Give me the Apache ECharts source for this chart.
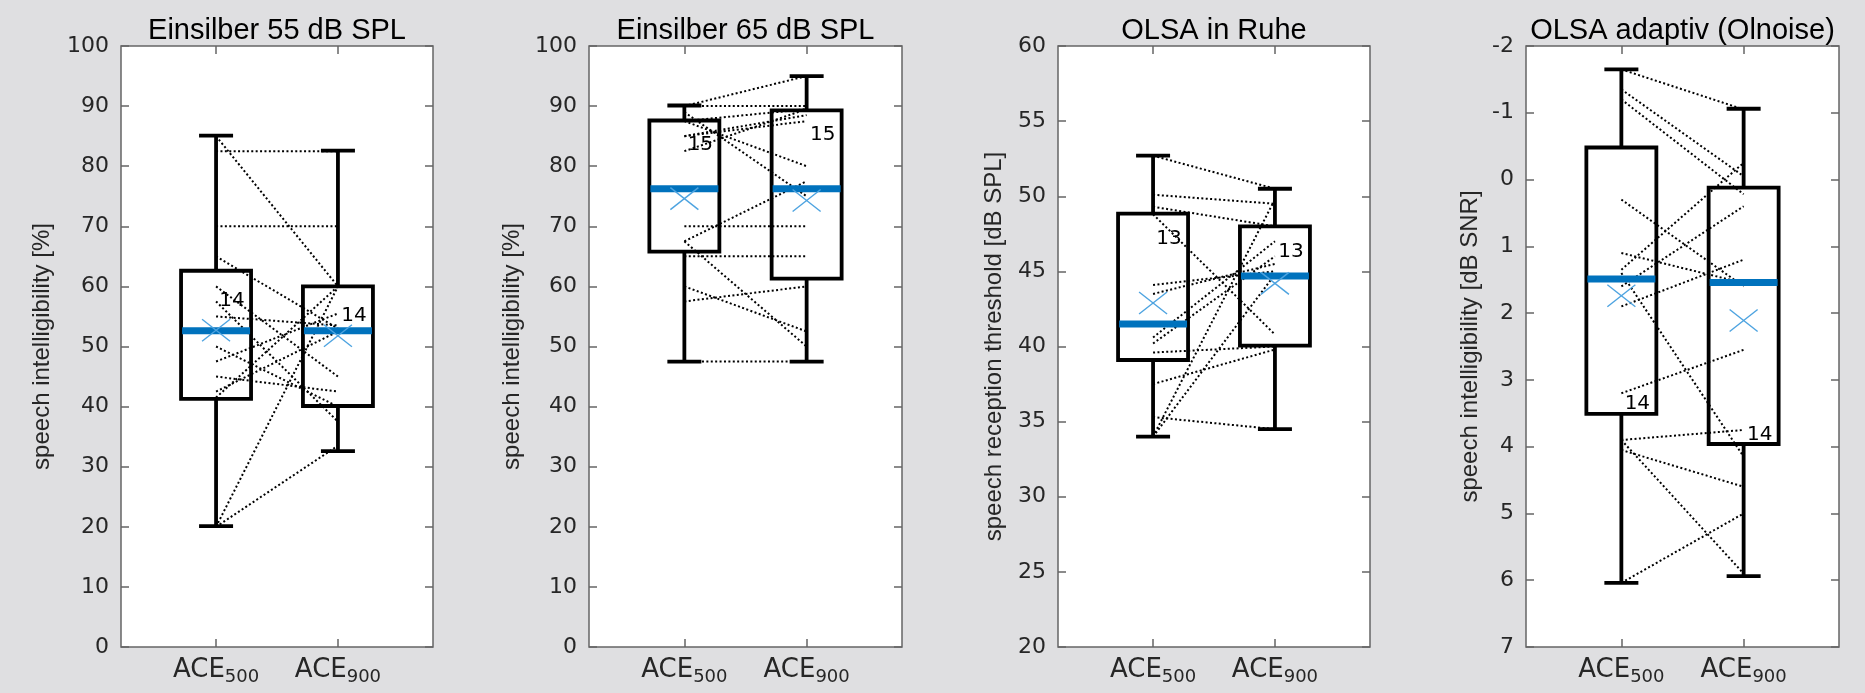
<!DOCTYPE html>
<html><head><meta charset="utf-8">
<script src="https://cdn.jsdelivr.net/npm/echarts@6.0.0/dist/echarts.min.js"></script>
<style>html,body{margin:0;padding:0;background:#dfdfe1;} #c{width:1865px;height:693px;}</style>
</head><body><div id="c"></div>
<script>
// ---------------- data ----------------
const categoryMain = ['ACE', 'ACE'];
const categorySub = ['500', '900'];
const categoryPos = [1, 2];
const panelTitles = ['Einsilber 55 dB SPL', 'Einsilber 65 dB SPL', 'OLSA in Ruhe', 'OLSA adaptiv (Olnoise)'];
const yAxisNames = ['speech intelligibility [%]', 'speech intelligibility [%]', 'speech reception threshold [dB SPL]', 'speech intelligibility [dB SNR]'];
const yMin = [0, 0, 20, -2];
const yMax = [100, 100, 60, 7];
const yStep = [10, 10, 5, 1];
const yReversed = [false, false, false, true];

// Einsilber 55 dB SPL (paired subjects)
const e55Ace500 = [85, 82.5, 70, 65, 60, 57.5, 55, 50, 47.5, 45, 42.5, 41.5, 20, 20];
const e55Ace900 = [60, 82.5, 70, 53, 45, 37.5, 53.5, 40, 55.5, 42.5, 52.5, 60, 60, 33.5];
const e55WhiskerLow = [20.1, 32.6];
const e55Q1 = [41.3, 40.1];
const e55Median = [52.6, 52.6];
const e55Q3 = [62.6, 60.0];
const e55WhiskerHigh = [85.1, 82.6];
const e55Mean = [52.7, 51.8];
const e55N = [14, 14];
const e55NLabelY = [57.6, 55.1];

// Einsilber 65 dB SPL
const e65Ace500 = [90, 90, 89, 87.5, 87.5, 85, 85, 82.5, 70, 67.5, 67.5, 65, 60, 57.5, 47.5];
const e65Ace900 = [95, 90, 75, 89.5, 80, 88.5, 87.5, 89.5, 70, 77.5, 50, 65, 52.5, 60, 47.5];
const e65WhiskerLow = [47.5, 47.5];
const e65Q1 = [65.8, 61.3];
const e65Median = [76.25, 76.25];
const e65Q3 = [87.6, 89.3];
const e65WhiskerHigh = [90.1, 95.0];
const e65Mean = [74.6, 74.3];
const e65N = [15, 15];
const e65NLabelY = [83.5, 85.3];

// OLSA in Ruhe
const olsaQAce500 = [52.7, 50.1, 49.3, 48.8, 44.1, 43.5, 40.6, 40.2, 39.6, 37.5, 35.3, 34.0, 34.0];
const olsaQAce900 = [50.5, 49.5, 48.0, 40.8, 45.0, 45.5, 47.0, 46.0, 40.0, 39.8, 34.5, 49.8, 44.8];
const olsaQWhiskerLow = [34.0, 34.5];
const olsaQQ1 = [39.1, 40.06];
const olsaQMedian = [41.5, 44.7];
const olsaQQ3 = [48.85, 48.0];
const olsaQWhiskerHigh = [52.7, 50.5];
const olsaQMean = [42.9, 44.2];
const olsaQN = [13, 13];
const olsaQNLabelY = [47.2, 46.3];

// OLSA adaptiv (Olnoise)
const olsaNAce500 = [-1.65, -1.35, -1.2, 0.3, 1.1, 1.35, 1.6, 1.9, 1.4, 3.2, 3.9, 4.05, 3.9, 6.04];
const olsaNAce900 = [-1.05, -0.05, 0.22, 1.6, 1.55, -0.25, 0.4, 1.2, 4.15, 2.55, 3.75, 4.6, 5.9, 5.0];
const olsaNWhiskerLow = [-1.65, -1.06];
const olsaNQ1 = [-0.48, 0.12];
const olsaNMedian = [1.49, 1.54];
const olsaNQ3 = [3.51, 3.96];
const olsaNWhiskerHigh = [6.04, 5.94];
const olsaNMean = [1.74, 2.11];
const olsaNN = [14, 14];
const olsaNNLabelY = [3.36, 3.82];

// ---------------- layout / style ----------------
const gridLefts = [121, 589, 1058, 1526];
const gridWidths = [312, 313, 312, 313];
const gridTop = 46, gridHeight = 601;
const yNameX = [42, 512, 994, 1470];
const TXT = '#262626';

const panels = [
  {a: e55Ace500, b: e55Ace900, lo: e55WhiskerLow, q1: e55Q1, med: e55Median, q3: e55Q3, hi: e55WhiskerHigh, mean: e55Mean, n: e55N, nY: e55NLabelY},
  {a: e65Ace500, b: e65Ace900, lo: e65WhiskerLow, q1: e65Q1, med: e65Median, q3: e65Q3, hi: e65WhiskerHigh, mean: e65Mean, n: e65N, nY: e65NLabelY},
  {a: olsaQAce500, b: olsaQAce900, lo: olsaQWhiskerLow, q1: olsaQQ1, med: olsaQMedian, q3: olsaQQ3, hi: olsaQWhiskerHigh, mean: olsaQMean, n: olsaQN, nY: olsaQNLabelY},
  {a: olsaNAce500, b: olsaNAce900, lo: olsaNWhiskerLow, q1: olsaNQ1, med: olsaNMedian, q3: olsaNQ3, hi: olsaNWhiskerHigh, mean: olsaNMean, n: olsaNN, nY: olsaNNLabelY}
];

const grid = [], xAxis = [], yAxis = [], series = [], graphic = [];

function renderPair(params, api) {
  const p1 = api.coord([api.value(0), api.value(1)]);
  const p2 = api.coord([api.value(2), api.value(3)]);
  return {type: 'line', shape: {x1: p1[0], y1: p1[1], x2: p2[0], y2: p2[1]},
    style: {stroke: '#000', lineWidth: 2, lineDash: [2, 2.4], fill: null}};
}

function renderBox(params, api) {
  const x = api.value(0);
  const c = v => api.coord([x, v]);
  const lo = c(api.value(1)), q1 = c(api.value(2)), med = c(api.value(3)), q3 = c(api.value(4)), hi = c(api.value(5)), mn = c(api.value(6));
  const cx = lo[0], bw = 35, cw = 17;
  const blk = {stroke: '#000', lineWidth: 3.8, fill: null};
  const xs = {stroke: '#4DA3E0', lineWidth: 1.4, fill: null};
  return {type: 'group', children: [
    {type: 'line', shape: {x1: cx, y1: q1[1], x2: cx, y2: lo[1]}, style: blk},
    {type: 'line', shape: {x1: cx, y1: q3[1], x2: cx, y2: hi[1]}, style: blk},
    {type: 'line', shape: {x1: cx - cw, y1: lo[1], x2: cx + cw, y2: lo[1]}, style: blk},
    {type: 'line', shape: {x1: cx - cw, y1: hi[1], x2: cx + cw, y2: hi[1]}, style: blk},
    {type: 'rect', shape: {x: cx - bw, y: Math.min(q1[1], q3[1]), width: 2 * bw, height: Math.abs(q1[1] - q3[1])},
      style: {stroke: '#000', lineWidth: 3.8, fill: 'transparent'}},
    {type: 'line', shape: {x1: cx - bw + 1, y1: med[1], x2: cx + bw - 1, y2: med[1]}, style: {stroke: '#0072BD', lineWidth: 7}},
    {type: 'line', shape: {x1: cx - 14, y1: mn[1] - 11, x2: cx + 14, y2: mn[1] + 11}, style: xs},
    {type: 'line', shape: {x1: cx - 14, y1: mn[1] + 11, x2: cx + 14, y2: mn[1] - 11}, style: xs}
  ]};
}

panels.forEach((p, i) => {
  grid.push({left: gridLefts[i], width: gridWidths[i], top: gridTop, height: gridHeight,
    show: true, backgroundColor: '#fff', borderColor: '#666', borderWidth: 1.5});
  const tick = {show: true, inside: true, length: 8, lineStyle: {color: '#666', width: 1.5}};
  const noLine = {show: false, onZero: false};
  xAxis.push({gridIndex: i, type: 'value', min: 0.22, max: 2.78, position: 'bottom',
    axisLine: noLine, splitLine: {show: false},
    axisTick: Object.assign({customValues: categoryPos}, tick),
    axisLabel: {customValues: categoryPos, margin: 7,
      formatter: v => { const k = categoryPos.indexOf(v); return k < 0 ? '' : '{a|' + categoryMain[k] + '}{b|' + categorySub[k] + '}'; },
      rich: {
        a: {fontFamily: 'DejaVu Sans', fontSize: 26, color: TXT, lineHeight: 32, verticalAlign: 'middle'},
        b: {fontFamily: 'DejaVu Sans', fontSize: 18, color: TXT, lineHeight: 6, verticalAlign: 'bottom'}
      }}});
  xAxis.push({gridIndex: i, type: 'value', min: 0.22, max: 2.78, position: 'top',
    axisLine: noLine, splitLine: {show: false}, axisLabel: {show: false},
    axisTick: Object.assign({customValues: categoryPos}, tick)});
  yAxis.push({gridIndex: i, type: 'value', min: yMin[i], max: yMax[i], interval: yStep[i], inverse: yReversed[i],
    position: 'left', axisLine: noLine, splitLine: {show: false}, axisTick: tick,
    axisLabel: {fontFamily: 'DejaVu Sans', fontSize: 22, color: TXT, margin: 12}});
  yAxis.push({gridIndex: i, type: 'value', min: yMin[i], max: yMax[i], interval: yStep[i], inverse: yReversed[i],
    position: 'right', axisLine: noLine, splitLine: {show: false}, axisTick: tick, axisLabel: {show: false}});

  series.push({type: 'custom', xAxisIndex: 2 * i, yAxisIndex: 2 * i, coordinateSystem: 'cartesian2d',
    renderItem: renderPair, encode: {x: [0, 2], y: [1, 3]}, z: 2, silent: true,
    data: p.a.map((v, k) => [categoryPos[0], v, categoryPos[1], p.b[k]])});
  series.push({type: 'custom', xAxisIndex: 2 * i, yAxisIndex: 2 * i, coordinateSystem: 'cartesian2d',
    renderItem: renderBox, encode: {x: 0, y: [1, 2, 3, 4, 5, 6]}, z: 3, silent: true,
    data: categoryPos.map((c, k) => [c, p.lo[k], p.q1[k], p.med[k], p.q3[k], p.hi[k], p.mean[k]])});
  series.push({type: 'custom', xAxisIndex: 2 * i, yAxisIndex: 2 * i, coordinateSystem: 'cartesian2d', z: 4, silent: true,
    encode: {x: 0, y: 1},
    renderItem: (params, api) => {
      const pt = api.coord([api.value(0), api.value(1)]);
      return {type: 'text', x: pt[0] + 16, y: pt[1],
        style: {text: String(p.n[params.dataIndex]), fill: '#000', font: '20px "DejaVu Sans"', textAlign: 'center', textVerticalAlign: 'middle'}};
    },
    data: categoryPos.map((c, k) => [c, p.nY[k]])});

  graphic.push({type: 'text', x: gridLefts[i] + gridWidths[i] / 2, y: 31,
    style: {text: panelTitles[i], fill: '#000', font: '29px "Liberation Sans", Arial, sans-serif', textAlign: 'center', textVerticalAlign: 'middle'}});
  graphic.push({type: 'text', x: yNameX[i], y: gridTop + gridHeight / 2, rotation: Math.PI / 2,
    style: {text: yAxisNames[i], fill: TXT, font: '24px "Liberation Sans", Arial, sans-serif', textAlign: 'center', textVerticalAlign: 'middle'}});
});

const chart = echarts.init(document.getElementById('c'), null, {renderer: 'canvas'});
chart.setOption({backgroundColor: '#dfdfe1', animation: false, grid, xAxis, yAxis, series, graphic});
</script></body></html>
